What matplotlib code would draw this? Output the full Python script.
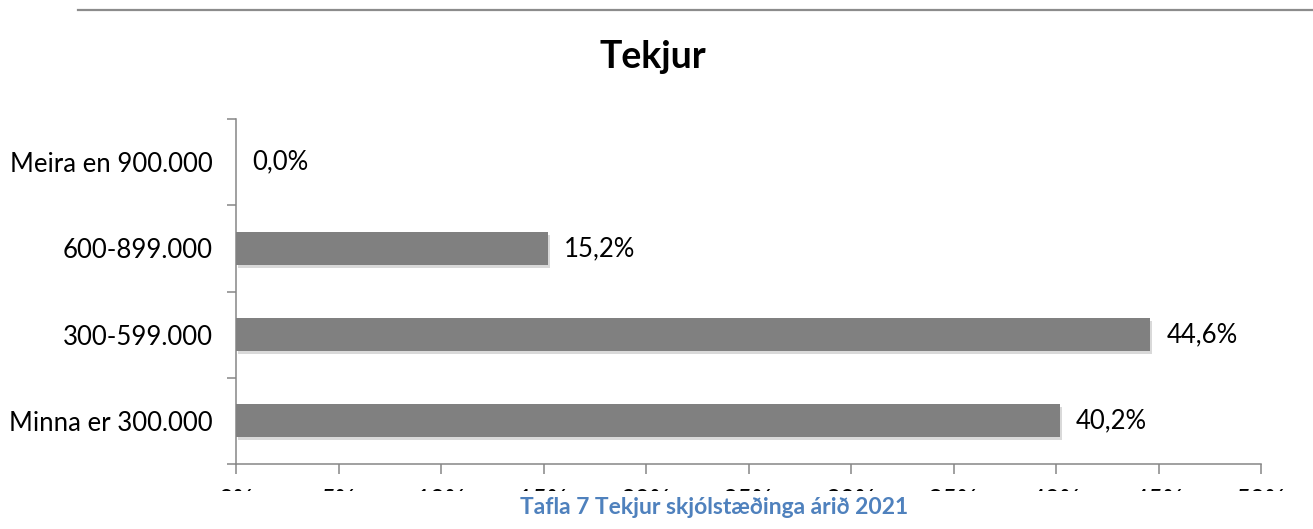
import matplotlib
matplotlib.use("Agg")
import matplotlib.pyplot as plt
import matplotlib.patheffects as pe
from matplotlib.patches import Rectangle
from matplotlib.lines import Line2D
import numpy as np

plt.rcParams['font.family'] = ['Lato', 'DejaVu Sans']

categories = ["Minna er 300.000", "300-599.000", "600-899.000", "Meira en 900.000"]
values = [40.2, 44.6, 15.2, 0.0]
value_labels = ["40,2%", "44,6%", "15,2%", "0,0%"]
xticks = [0, 5, 10, 15, 20, 25, 30, 35, 40, 45, 50]
xtick_labels = [f"{t}%" for t in xticks]

title = "Tekjur"
caption = "Tafla 7 Tekjur skjólstæðinga árið 2021"

axis_grey = "#868686"

fig = plt.figure(figsize=(13.13, 5.29), dpi=100)
ax = fig.add_axes([236 / 1313, 1 - 464 / 529, (1261 - 236) / 1313, (464 - 119) / 529])

y = np.arange(len(categories))
bars = ax.barh(y, values, height=0.385, color="#808080", zorder=3)
for b in bars:
    b.set_path_effects([pe.SimplePatchShadow(offset=(1.5, -2), shadow_rgbFace="#000000", alpha=0.15),
                        pe.Normal()])

for yi, v, lab in zip(y, values, value_labels):
    ax.annotate(lab, xy=(v, yi), xytext=(11.5, 0), textcoords="offset points",
                ha="left", va="center", fontsize=18.5, color="#000000")

ax.set_xlim(0, 50)
ax.set_ylim(-0.5, len(categories) - 0.5)

ax.set_yticks(y)
ax.set_yticklabels(categories, fontsize=18.5)
ax.set_yticks(np.arange(-0.5, len(categories), 1.0), minor=True)
ax.tick_params(axis="y", which="major", length=0, pad=17)
ax.tick_params(axis="y", which="minor", length=6.5, width=1.1, color=axis_grey, direction="out")

ax.set_xticks(xticks)
ax.set_xticklabels(xtick_labels, fontsize=18.5)
ax.tick_params(axis="x", which="major", length=7, width=1.1, color=axis_grey, direction="out", pad=11)

for side in ["top", "right"]:
    ax.spines[side].set_visible(False)
for side in ["left", "bottom"]:
    ax.spines[side].set_color(axis_grey)
    ax.spines[side].set_linewidth(1.1)

# the tick labels are cut off by the caption area
fig.patches.append(Rectangle((0, 0), 1, 1 - 491 / 529, transform=fig.transFigure,
                             facecolor="white", edgecolor="none", zorder=10))

fig.text(653 / 1313, 1 - 57 / 529, title, ha="center", va="center",
         fontsize=27, fontweight="bold", color="#000000")
fig.text(714 / 1313, 1 - 508 / 529, caption, ha="center", va="center",
         fontsize=16.5, fontweight="bold", color="#4F81BD", zorder=11)

fig.lines.append(Line2D([78 / 1313, 1], [1 - 10 / 529, 1 - 10 / 529], transform=fig.transFigure,
                        color="#8c8c8c", linewidth=1.6))

fig.savefig("out.png", dpi=100)
